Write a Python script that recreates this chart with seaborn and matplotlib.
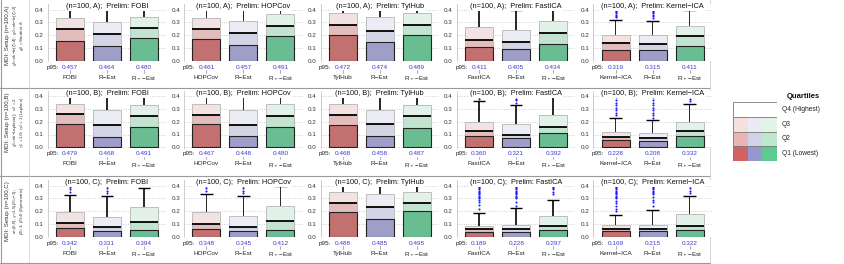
import matplotlib
matplotlib.use("Agg")
import matplotlib.pyplot as plt
import matplotlib.transforms as mtransforms
import pandas as pd
import seaborn as sns

sns.set_theme(style="white")
plt.rcParams['font.family'] = ['Liberation Sans', 'DejaVu Sans']

# ---------------- data ----------------
methods = ["FOBI", "HOPCov", "TylHub", "FastICA", "Kernel\u2212ICA"]
setups = ["A", "B", "C"]
est_suffix = ["R\u2212Est", "R$_+$\u2212Est"]

# [setup][method][estimator]
q1 = [
    [[0.155, 0.114, 0.174], [0.168, 0.122, 0.192], [0.200, 0.143, 0.200], [0.105, 0.092, 0.128], [0.086, 0.080, 0.118]],
    [[0.182, 0.084, 0.160], [0.180, 0.090, 0.160], [0.172, 0.085, 0.150], [0.090, 0.070, 0.110], [0.060, 0.050, 0.090]],
    [[0.065, 0.044, 0.052], [0.062, 0.046, 0.055], [0.190, 0.140, 0.200], [0.040, 0.040, 0.050], [0.046, 0.046, 0.050]],
]
median = [
    [[0.245, 0.210, 0.258], [0.250, 0.215, 0.272], [0.280, 0.235, 0.280], [0.162, 0.144, 0.214], [0.137, 0.130, 0.195]],
    [[0.258, 0.175, 0.245], [0.250, 0.178, 0.245], [0.255, 0.182, 0.242], [0.130, 0.100, 0.160], [0.080, 0.070, 0.130]],
    [[0.108, 0.072, 0.116], [0.100, 0.075, 0.120], [0.260, 0.230, 0.260], [0.058, 0.063, 0.083], [0.064, 0.064, 0.085]],
]
q3 = [
    [[0.335, 0.300, 0.345], [0.335, 0.310, 0.365], [0.370, 0.340, 0.370], [0.260, 0.243, 0.308], [0.197, 0.203, 0.275]],
    [[0.342, 0.295, 0.334], [0.340, 0.290, 0.335], [0.340, 0.295, 0.334], [0.200, 0.180, 0.250], [0.120, 0.110, 0.200]],
    [[0.194, 0.155, 0.232], [0.190, 0.160, 0.240], [0.350, 0.330, 0.350], [0.083, 0.089, 0.165], [0.090, 0.090, 0.180]],
]
whisker = [
    [[0.50, 0.50, 0.50], [0.50, 0.50, 0.50], [0.50, 0.50, 0.50], [0.420, 0.400, 0.50], [0.315, 0.310, 0.400]],
    [[0.50, 0.50, 0.50], [0.50, 0.50, 0.50], [0.50, 0.50, 0.50], [0.360, 0.330, 0.410], [0.230, 0.210, 0.340]],
    [[0.328, 0.317, 0.380], [0.335, 0.320, 0.400], [0.50, 0.50, 0.50], [0.185, 0.223, 0.289], [0.170, 0.210, 0.320]],
]
outliers = [
    [[[], [], []], [[], [], []], [[], [], []], [[], [], []],
     [[0.34, 0.35, 0.36, 0.37, 0.38, 0.39, 0.40, 0.41, 0.42, 0.43],
      [0.33, 0.35, 0.36, 0.37, 0.38, 0.39, 0.40, 0.41, 0.42, 0.43], []]],
    [[[], [], []], [[], [], []], [[], [], []],
     [[0.38, 0.39, 0.40, 0.41, 0.42, 0.43], [0.35, 0.37, 0.38, 0.40, 0.41, 0.42, 0.43], []],
     [[0.25, 0.27, 0.29, 0.31, 0.33, 0.35, 0.37, 0.39, 0.41, 0.43],
      [0.23, 0.25, 0.27, 0.29, 0.31, 0.33, 0.35, 0.37, 0.39, 0.41, 0.43],
      [0.36, 0.38, 0.40, 0.42]]],
    [[[0.35, 0.37, 0.39, 0.41, 0.43], [0.34, 0.36, 0.38, 0.40, 0.42], []],
     [[0.36, 0.38, 0.40, 0.42], [0.34, 0.36, 0.38, 0.40, 0.42], []],
     [[], [], []],
     [[0.22, 0.25, 0.27, 0.29, 0.30, 0.31, 0.32, 0.33, 0.34, 0.35, 0.36, 0.37, 0.38, 0.39, 0.40, 0.41, 0.42, 0.43],
      [0.24, 0.27, 0.30, 0.31, 0.32, 0.33, 0.34, 0.35, 0.36, 0.37, 0.38, 0.39, 0.40, 0.41, 0.42, 0.43],
      [0.33, 0.35, 0.37, 0.38, 0.39, 0.40, 0.41, 0.42, 0.43]],
     [[0.20, 0.22, 0.24, 0.26, 0.28, 0.30, 0.31, 0.32, 0.33, 0.34, 0.35, 0.36, 0.37, 0.38, 0.39, 0.40, 0.41, 0.42, 0.43],
      [0.24, 0.27, 0.29, 0.31, 0.33, 0.34, 0.35, 0.36, 0.37, 0.38, 0.39, 0.40, 0.41, 0.42, 0.43],
      [0.34, 0.36, 0.38, 0.40, 0.41, 0.42, 0.43]]],
]
p95 = [
    [[0.457, 0.464, 0.480], [0.461, 0.457, 0.491], [0.472, 0.474, 0.489], [0.411, 0.405, 0.434], [0.319, 0.315, 0.411]],
    [[0.479, 0.468, 0.491], [0.467, 0.448, 0.480], [0.468, 0.458, 0.487], [0.360, 0.321, 0.392], [0.228, 0.208, 0.332]],
    [[0.342, 0.331, 0.394], [0.348, 0.345, 0.412], [0.488, 0.485, 0.495], [0.189, 0.228, 0.297], [0.169, 0.215, 0.322]],
]
row_labels = [
    ["MDI: Setup (n=100,A)", "$g_1$=ek\u2212ln($\\zeta$=4);  $g_2$=ek\u2212ln($\\zeta$=2)", "$g_3$ = Student $t_5$"],
    ["MDI: Setup (n=100,B)", "$g_1$=ek\u2212Laplace();  $\\nu_2$ = 2", "$\\eta_1$ = 1/3; $\\eta_2$ = 1 (Laplace)"],
    ["MDI: Setup (n=100,C)", "$a$=(0,0), $\\gamma$=1.5($\\beta_1$=\u22121);", "$\\beta_2$=1; $\\beta_3$=0 (Symmetric)"],
]
quartile_names = ["Q4 (Highest)", "Q3", "Q2", "Q1 (Lowest)"]

# colours: red, blue, green
dark = ["#d06262", "#9797cf", "#5ccb92"]
mid = ["#e9b5b5", "#d1d1ea", "#bce8ce"]
light = ["#f6dfdf", "#ebebf6", "#e0f4e8"]

# ---------------- layout ----------------
W, H = 845, 264
fig = plt.figure(figsize=(W / 100, H / 100), dpi=100)

unit = 37.0
xlo, xhi = -0.6, 2.6
ylo, yhi = -0.005, 0.44
pxs = 128.0
y0s = [60.7, 147.3, 236.7]

for r in range(3):
    for c in range(5):
        left = 70 - 0.6 * unit + 136.4 * c
        width = (xhi - xlo) * unit
        bottom = y0s[r] - ylo * pxs
        top = y0s[r] - yhi * pxs
        ax = fig.add_axes([left / W, 1 - bottom / H, width / W, (bottom - top) / H])
        names = [methods[c]] + est_suffix
        wtop = [min(w, yhi) for w in whisker[r][c]]
        df = pd.DataFrame({"est": names, "q1": q1[r][c], "med": median[r][c], "q3": q3[r][c],
                           "wlen": [wt - b for wt, b in zip(wtop, q3[r][c])]})
        # whisker stems drawn as narrow bars so they render crisply
        ax.bar([0, 1, 2], df["wlen"], bottom=df["q3"], width=0.045, color="#2b2b2b",
               linewidth=0, zorder=1.8)
        sns.barplot(data=df, x="est", y="q3", hue="est", palette=light, width=0.76,
                    edgecolor="#b5b5b5", linewidth=0.6, legend=False, ax=ax, zorder=2)
        sns.barplot(data=df, x="est", y="med", hue="est", palette=mid, width=0.76,
                    edgecolor="#b5b5b5", linewidth=0.4, legend=False, ax=ax, zorder=3)
        sns.barplot(data=df, x="est", y="q1", hue="est", palette=dark, width=0.76,
                    edgecolor="#222222", linewidth=0.8, legend=False, ax=ax, zorder=4)
        for i in range(3):
            ax.hlines(median[r][c][i], i - 0.38, i + 0.38, color="black", lw=1.3, zorder=5)
            if whisker[r][c][i] < yhi:
                ax.hlines(whisker[r][c][i], i - 0.17, i + 0.17, color="black", lw=1.0, zorder=6)
            outs = outliers[r][c][i]
            if outs:
                ax.plot([i] * len(outs), outs, "o", ms=1.5, color="#1a1aff", mec="none", zorder=8)
        ax.set_xlim(xlo, xhi)
        ax.set_ylim(ylo, yhi)
        ax.set_yticks([0, 0.1, 0.2, 0.3, 0.4])
        ax.set_yticklabels(["0.0", "0.1", "0.2", "0.3", "0.4"])
        ax.yaxis.grid(True, ls=":", color="#c4c4c4", lw=0.6)
        ax.set_axisbelow(True)
        ax.set_xlabel("")
        ax.set_ylabel("")
        for s in ["top", "right", "bottom"]:
            ax.spines[s].set_visible(False)
        ax.spines["left"].set_color("#bbbbbb")
        ax.spines["left"].set_linewidth(0.5)
        ax.tick_params(axis="y", length=2, width=0.5, color="#888888", pad=1, labelsize=4.5,
                       labelcolor="#333333")
        ax.tick_params(axis="x", length=0, pad=9.5, labelsize=4.6, labelcolor="#222222")
        trans = mtransforms.blended_transform_factory(ax.transData, ax.transAxes)
        for i in range(3):
            ax.text(i, -0.10, f"{p95[r][c][i]:.3f}", transform=trans, ha="center", va="center",
                    fontsize=4.6, color="#3a3ad0")
            ax.plot([i, i], [-0.155, -0.2], transform=trans, clip_on=False, color="#888888", lw=0.5)
        ax.text(-0.31, -0.10, "p95:", transform=trans, ha="right", va="center",
                fontsize=4.6, color="#222222")
        ax.text(0.5, 0.96, f"(n=100, {setups[r]});  Prelim: {methods[c]}", transform=ax.transAxes,
                ha="center", va="center", fontsize=5.3, color="#111111", zorder=10,
                bbox=dict(facecolor="white", edgecolor="none", pad=0.6))

# ---------------- frame lines and row labels ----------------
frame = fig.add_axes([0, 0, 1, 1], zorder=-5)
frame.set_xlim(0, W)
frame.set_ylim(H, 0)
frame.axis("off")
for yy in [87.5, 175.5]:
    frame.plot([0, 710], [yy, yy], color="#9a9a9a", lw=0.8)
frame.plot([1, 1], [0, 263], color="#9a9a9a", lw=0.8)
frame.plot([29.5, 29.5], [0, 263], color="#cfcfcf", lw=0.5)
frame.plot([710, 710], [0, 263], color="#cfcfcf", lw=0.6)
frame.plot([0, 710], [263, 263], color="#9a9a9a", lw=0.8)

for r in range(3):
    yc = y0s[r] - 0.2 * pxs
    fig.text(7.5 / W, 1 - yc / H, row_labels[r][0], rotation=90, ha="center", va="center",
             fontsize=4.4, color="#333333")
    fig.text(14.8 / W, 1 - yc / H, row_labels[r][1], rotation=90, ha="center", va="center",
             fontsize=3.2, color="#333333")
    fig.text(22.0 / W, 1 - yc / H, row_labels[r][2], rotation=90, ha="center", va="center",
             fontsize=3.2, color="#333333")

# ---------------- legend ----------------
lg = fig.add_axes([733 / W, 1 - 161 / H, 44 / W, 59 / H])
lg.set_xlim(0, 3)
lg.set_ylim(0, 4)
lg.axis("off")
layers = [["white"] * 3, light, mid, dark]
for k in range(4):
    yb = 3 - k
    for j in range(3):
        lg.add_patch(plt.Rectangle((j, yb), 1, 1, facecolor=layers[k][j], edgecolor="none"))
    lg.add_patch(plt.Rectangle((0, yb), 3, 1, facecolor="none", edgecolor="#7a7a7a", lw=0.6))
    fig.text(782 / W, 1 - (109.5 + 14.7 * k) / H, quartile_names[k], ha="left", va="center",
             fontsize=4.8, color="#222222")
fig.text(803 / W, 1 - 96 / H, "Quartiles", ha="center", va="center", fontsize=5.5,
         fontweight="bold", color="#111111")

fig.savefig("out.png", dpi=100)
